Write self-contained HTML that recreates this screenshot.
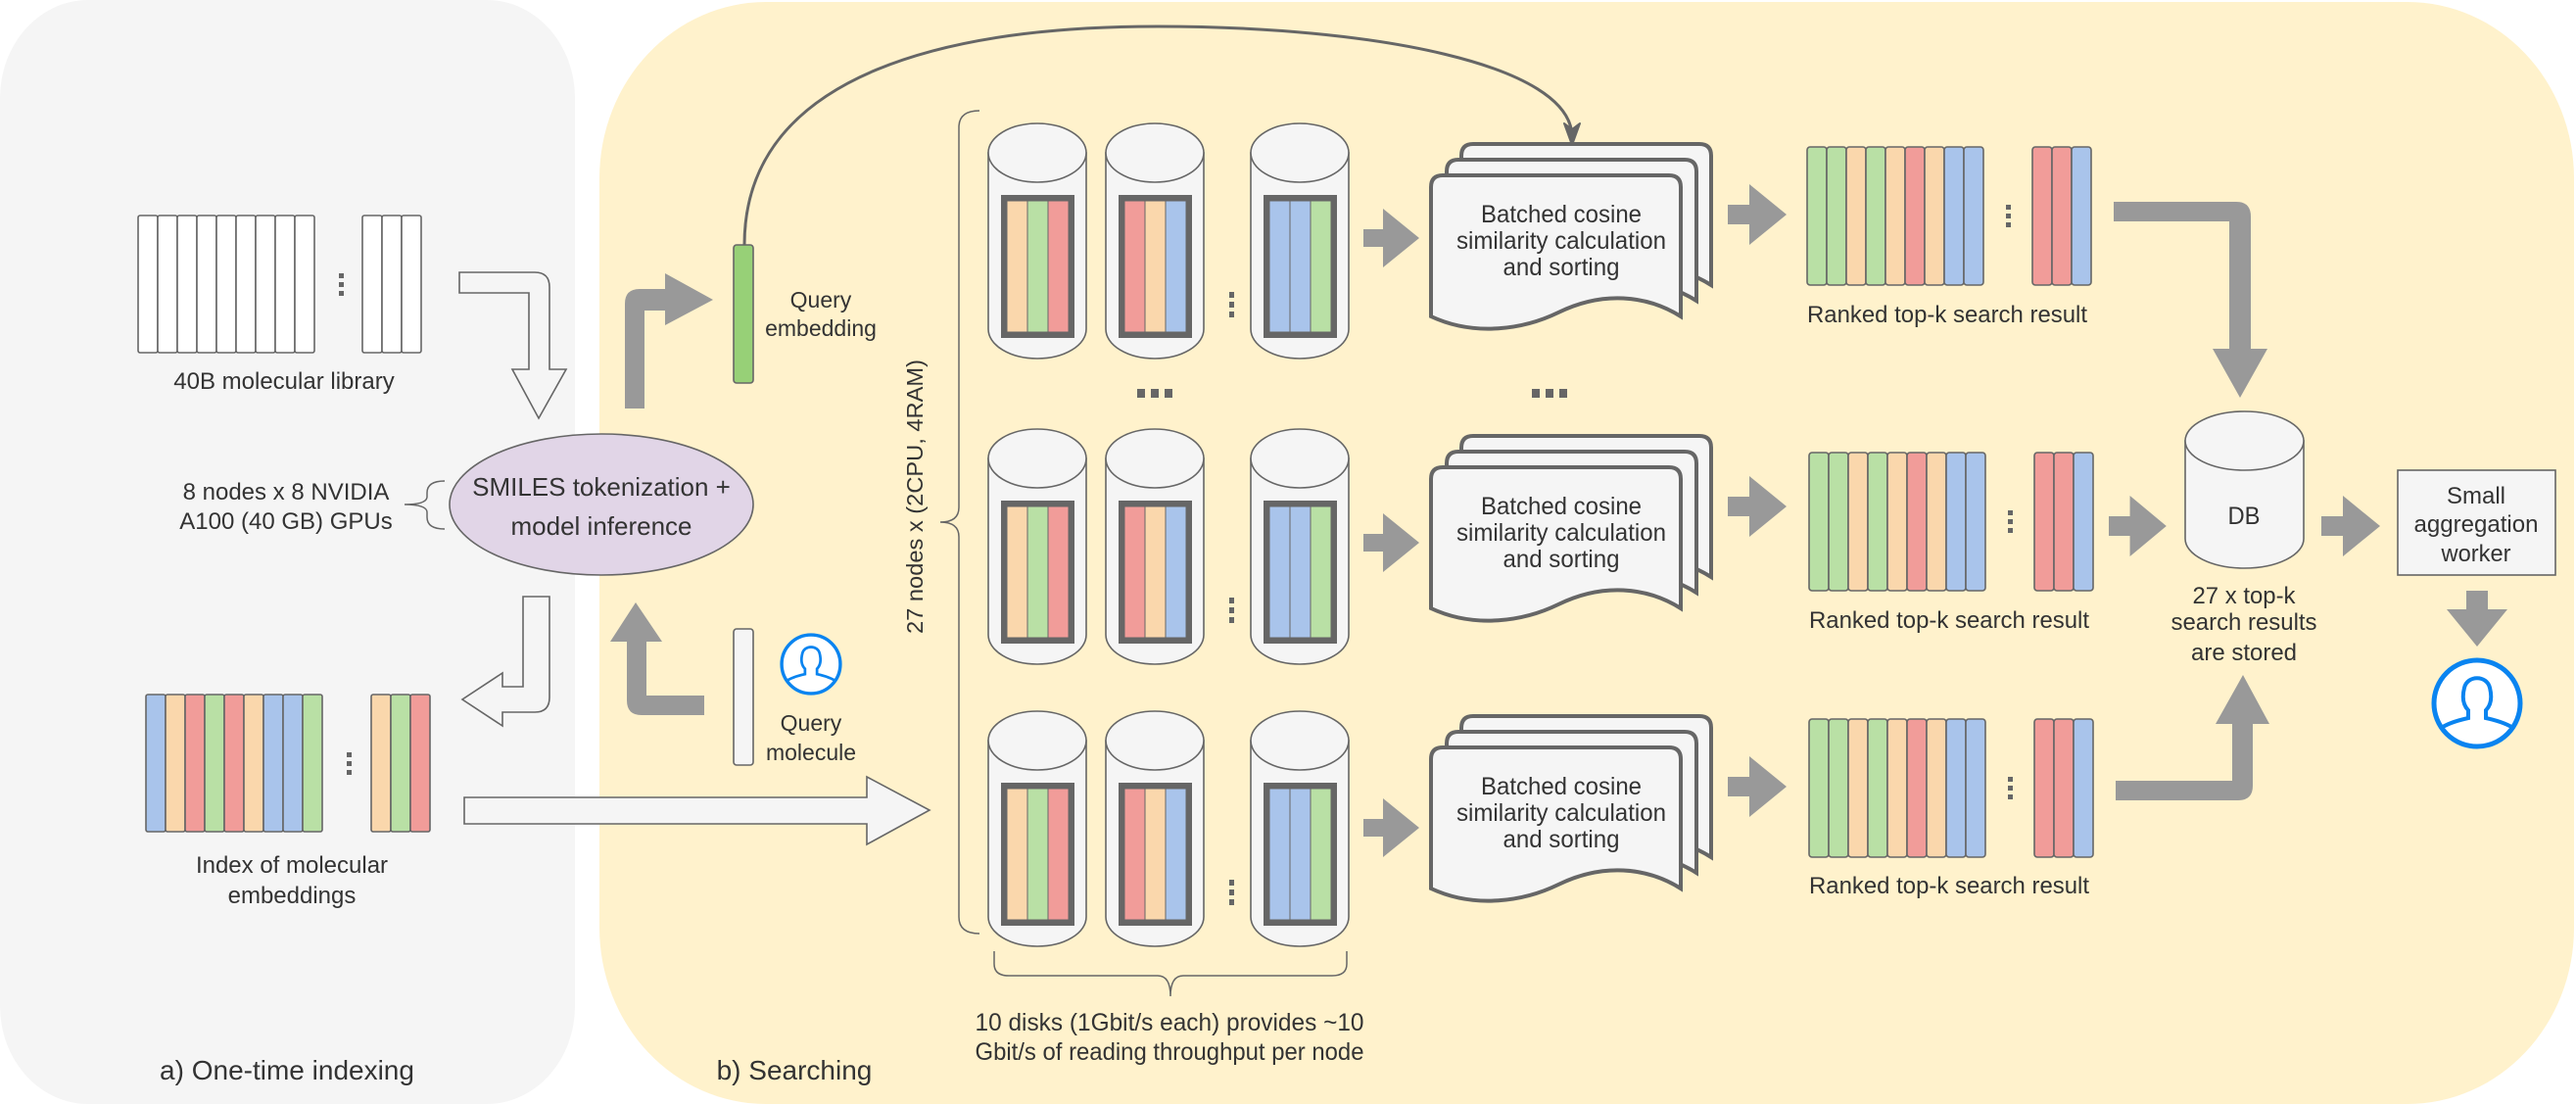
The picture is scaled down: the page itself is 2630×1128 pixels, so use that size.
<!DOCTYPE html>
<html><head><meta charset="utf-8"><style>
html,body{margin:0;padding:0;background:#fff;}
svg{display:block;}
text{font-family:"Liberation Sans",Arial,sans-serif;fill:#333;}
</style></head><body>
<svg width="2630" height="1128" viewBox="0 0 2630 1128" xmlns="http://www.w3.org/2000/svg">
<defs>
  <g id="cyl">
    <path d="M0,30 V210 A50,30 0 0 0 100,210 V30 Z" fill="#f5f5f5" stroke="#666" stroke-width="1.6"/>
    <ellipse cx="50" cy="30" rx="50" ry="30" fill="#f5f5f5" stroke="#666" stroke-width="1.6"/>
  </g>
  <g id="cylrow">
    <use href="#cyl" x="0"/>
    <use href="#cyl" x="120"/>
    <use href="#cyl" x="268"/>
    <g stroke="#666" stroke-width="1">
      <rect x="19" y="79" width="21" height="134" fill="#fad7ac"/>
      <rect x="40" y="79" width="21" height="134" fill="#b9e0a5"/>
      <rect x="61" y="79" width="21" height="134" fill="#f19c99"/>
      <rect x="139" y="79" width="21" height="134" fill="#f19c99"/>
      <rect x="160" y="79" width="21" height="134" fill="#fad7ac"/>
      <rect x="181" y="79" width="21" height="134" fill="#a9c4eb"/>
      <rect x="287" y="79" width="21" height="134" fill="#a9c4eb"/>
      <rect x="308" y="79" width="21" height="134" fill="#a9c4eb"/>
      <rect x="329" y="79" width="21" height="134" fill="#b9e0a5"/>
    </g>
    <g fill="none" stroke="#666" stroke-width="6">
      <rect x="16" y="76" width="69" height="140"/>
      <rect x="136" y="76" width="69" height="140"/>
      <rect x="284" y="76" width="69" height="140"/>
    </g>
    <g fill="#666">
      <rect x="246" y="172" width="5" height="6"/>
      <rect x="246" y="182" width="5" height="6"/>
      <rect x="246" y="192" width="5" height="6"/>
    </g>
  </g>
  <path id="docshape" d="M0,12 Q0,0 12,0 H243 Q255,0 255,12 V144 C220,122 175,118 130,140 C95,157 45,165 0,144 Z" fill="#f5f5f5" stroke="#666" stroke-width="4"/>
  <g id="doc">
    <use href="#docshape" x="31" y="0"/>
    <use href="#docshape" x="16" y="16"/>
    <use href="#docshape" x="0" y="32"/>
    <text x="133" y="80" font-size="25" text-anchor="middle" textLength="164" lengthAdjust="spacingAndGlyphs">Batched cosine</text>
    <text x="133" y="107" font-size="25" text-anchor="middle" textLength="214" lengthAdjust="spacingAndGlyphs">similarity calculation</text>
    <text x="133" y="134" font-size="25" text-anchor="middle" textLength="119" lengthAdjust="spacingAndGlyphs">and sorting</text>
  </g>
  <g id="ranked" stroke="#666" stroke-width="1.6">
    <rect x="0" y="0" width="20" height="141" rx="3" fill="#b9e0a5"/>
    <rect x="20" y="0" width="20" height="141" rx="3" fill="#b9e0a5"/>
    <rect x="40" y="0" width="20" height="141" rx="3" fill="#fad7ac"/>
    <rect x="60" y="0" width="20" height="141" rx="3" fill="#b9e0a5"/>
    <rect x="80" y="0" width="20" height="141" rx="3" fill="#fad7ac"/>
    <rect x="100" y="0" width="20" height="141" rx="3" fill="#f19c99"/>
    <rect x="120" y="0" width="20" height="141" rx="3" fill="#fad7ac"/>
    <rect x="140" y="0" width="20" height="141" rx="3" fill="#a9c4eb"/>
    <rect x="160" y="0" width="20" height="141" rx="3" fill="#a9c4eb"/>
    <rect x="230" y="0" width="20" height="141" rx="3" fill="#f19c99"/>
    <rect x="250" y="0" width="20" height="141" rx="3" fill="#f19c99"/>
    <rect x="270" y="0" width="20" height="141" rx="3" fill="#a9c4eb"/>
    <g fill="#666" stroke="none">
      <rect x="203" y="59" width="5" height="5"/>
      <rect x="203" y="68" width="5" height="5"/>
      <rect x="203" y="77" width="5" height="5"/>
    </g>
  </g>
  <path id="arrA" d="M0,-9 H20 V-30 L57,0 L20,30 V9 H0 Z" fill="#999"/>
  <path id="arrB" d="M0,-10 H22 V-31 L60,0 L22,31 V10 H0 Z" fill="#999"/>
  <g id="user">
    <circle cx="0" cy="0" r="44" fill="#fff" stroke="#0a84f0" stroke-width="5"/>
    <path d="M-38,26 C-30,20 -18,17 -9,15 L-9,7 C-15,1 -15,-8 -13,-16 C-10,-29 10,-29 13,-16 C15,-8 15,1 9,7 L9,15 C18,17 30,20 38,26" fill="none" stroke="#0a84f0" stroke-width="4"/>
  </g>
</defs>

<rect x="0" y="0" width="587" height="1127" rx="90" ry="100" fill="#f5f5f5"/>
<rect x="612" y="2" width="2016" height="1125" rx="170" ry="180" fill="#fff2cc"/>

<g stroke="#666" stroke-width="1.6" fill="#fff">
  <rect x="141" y="220" width="20" height="140" rx="2"/>
  <rect x="161" y="220" width="20" height="140" rx="2"/>
  <rect x="181" y="220" width="20" height="140" rx="2"/>
  <rect x="201" y="220" width="20" height="140" rx="2"/>
  <rect x="221" y="220" width="20" height="140" rx="2"/>
  <rect x="241" y="220" width="20" height="140" rx="2"/>
  <rect x="261" y="220" width="20" height="140" rx="2"/>
  <rect x="281" y="220" width="20" height="140" rx="2"/>
  <rect x="301" y="220" width="20" height="140" rx="2"/>
  <rect x="370" y="220" width="20" height="140" rx="2"/>
  <rect x="390" y="220" width="20" height="140" rx="2"/>
  <rect x="410" y="220" width="20" height="140" rx="2"/>
</g>
<g fill="#666"><rect x="346" y="279" width="5" height="5"/><rect x="346" y="288" width="5" height="5"/><rect x="346" y="297" width="5" height="5"/></g>
<text x="290" y="397" font-size="24" text-anchor="middle">40B molecular library</text>

<g fill="#f5f5f5" stroke="#666" stroke-width="1.6">
  <path d="M469,278 H546 Q561,278 561,293 V377 H578 L550,427 L523,377 H540 V299 H469 Z"/>
  <path d="M534,609 H561 V712 Q561,727 546,727 H513 V741 L472,714 L513,687 V701 H534 Z"/>
  <path d="M474,814 H885 V793 L949,827 L885,862 V841 H474 Z"/>
</g>

<ellipse cx="614" cy="515" rx="155" ry="72" fill="#e1d5e7" stroke="#666" stroke-width="1.6"/>
<text x="614" y="506" font-size="26" text-anchor="middle">SMILES tokenization +</text>
<text x="614" y="546" font-size="26" text-anchor="middle">model inference</text>
<text x="292" y="510" font-size="24" text-anchor="middle">8 nodes x 8 NVIDIA</text>
<text x="292" y="540" font-size="24" text-anchor="middle">A100 (40 GB) GPUs</text>
<path d="M454,491 Q436,491 436,503 V507 Q436,515 413,515 Q436,515 436,523 V528 Q436,540 454,540" fill="none" stroke="#666" stroke-width="1.5"/>

<g stroke="#666" stroke-width="1.6">
  <rect x="149" y="709" width="20" height="140" rx="2" fill="#a9c4eb"/>
  <rect x="169" y="709" width="20" height="140" rx="2" fill="#fad7ac"/>
  <rect x="189" y="709" width="20" height="140" rx="2" fill="#f19c99"/>
  <rect x="209" y="709" width="20" height="140" rx="2" fill="#b9e0a5"/>
  <rect x="229" y="709" width="20" height="140" rx="2" fill="#f19c99"/>
  <rect x="249" y="709" width="20" height="140" rx="2" fill="#fad7ac"/>
  <rect x="269" y="709" width="20" height="140" rx="2" fill="#a9c4eb"/>
  <rect x="289" y="709" width="20" height="140" rx="2" fill="#a9c4eb"/>
  <rect x="309" y="709" width="20" height="140" rx="2" fill="#b9e0a5"/>
  <rect x="379" y="709" width="20" height="140" rx="2" fill="#fad7ac"/>
  <rect x="399" y="709" width="20" height="140" rx="2" fill="#b9e0a5"/>
  <rect x="419" y="709" width="20" height="140" rx="2" fill="#f19c99"/>
</g>
<g fill="#666"><rect x="354" y="768" width="5" height="5"/><rect x="354" y="777" width="5" height="5"/><rect x="354" y="786" width="5" height="5"/></g>
<text x="298" y="891" font-size="24" text-anchor="middle">Index of molecular</text>
<text x="298" y="922" font-size="24" text-anchor="middle">embeddings</text>

<text x="293" y="1102" font-size="28" text-anchor="middle">a) One-time indexing</text>
<text x="811" y="1102" font-size="28" text-anchor="middle">b) Searching</text>

<path d="M638,417 V310 Q638,295 653,295 H679 V279 L728,306 L679,332 V317 H658 V417 Z" fill="#999"/>
<path d="M640,655 H623 L649,615 L676,655 H660 V710 H719 V730 H655 Q640,730 640,715 Z" fill="#999"/>

<path d="M760,250 C760,70 980,27 1182,27 C1400,27 1605,65 1605,140" fill="none" stroke="#666" stroke-width="3"/>
<path d="M1605,148 L1597,126 L1605,132 L1613,126 Z" fill="#666" stroke="#666" stroke-width="2" stroke-linejoin="round"/>
<rect x="749" y="250" width="20" height="141" rx="3" fill="#97d077" stroke="#666" stroke-width="1.6"/>
<text x="838" y="314" font-size="23" text-anchor="middle">Query</text>
<text x="838" y="343" font-size="23" text-anchor="middle">embedding</text>

<rect x="749" y="642" width="20" height="139" rx="3" fill="#f5f5f5" stroke="#666" stroke-width="1.6"/>
<use href="#user" transform="translate(828,678) scale(0.68)"/>
<text x="828" y="746" font-size="23" text-anchor="middle">Query</text>
<text x="828" y="776" font-size="23" text-anchor="middle">molecule</text>

<text transform="translate(942,507) rotate(-90)" font-size="23" text-anchor="middle" textLength="280" lengthAdjust="spacingAndGlyphs">27 nodes x (2CPU, 4RAM)</text>
<path d="M1000,113 Q979,113 979,130 V518 Q979,533 960,533 Q979,533 979,548 V936 Q979,953 1000,953" fill="none" stroke="#666" stroke-width="1.5"/>

<use href="#cylrow" transform="translate(1009,126)"/>
<use href="#cylrow" transform="translate(1009,438)"/>
<use href="#cylrow" transform="translate(1009,726)"/>
<g fill="#666">
  <rect x="1161" y="397" width="8" height="9"/><rect x="1175" y="397" width="8" height="9"/><rect x="1189" y="397" width="8" height="9"/>
  <rect x="1564" y="397" width="8" height="9"/><rect x="1578" y="397" width="8" height="9"/><rect x="1592" y="397" width="8" height="9"/>
</g>
<path d="M1015,971 V984 Q1015,996 1030,996 H1182 Q1195,996 1195,1017 Q1195,996 1208,996 H1360 Q1375,996 1375,984 V971" fill="none" stroke="#666" stroke-width="1.5"/>
<text x="1194" y="1052" font-size="25" text-anchor="middle" textLength="397" lengthAdjust="spacingAndGlyphs">10 disks (1Gbit/s each) provides ~10</text>
<text x="1194" y="1082" font-size="25" text-anchor="middle" textLength="397" lengthAdjust="spacingAndGlyphs">Gbit/s of reading throughput per node</text>

<use href="#arrA" transform="translate(1392,243)"/>
<use href="#arrA" transform="translate(1392,554)"/>
<use href="#arrA" transform="translate(1392,845)"/>

<use href="#doc" transform="translate(1461,147)"/>
<use href="#doc" transform="translate(1461,445)"/>
<use href="#doc" transform="translate(1461,731)"/>

<use href="#arrB" transform="translate(1764,219)"/>
<use href="#arrB" transform="translate(1764,517)"/>
<use href="#arrB" transform="translate(1764,803)"/>

<use href="#ranked" transform="translate(1845,150)"/>
<use href="#ranked" transform="translate(1847,462)"/>
<use href="#ranked" transform="translate(1847,734)"/>
<text x="1988" y="329" font-size="24" text-anchor="middle" textLength="286" lengthAdjust="spacingAndGlyphs">Ranked top-k search result</text>
<text x="1990" y="641" font-size="24" text-anchor="middle" textLength="286" lengthAdjust="spacingAndGlyphs">Ranked top-k search result</text>
<text x="1990" y="912" font-size="24" text-anchor="middle" textLength="286" lengthAdjust="spacingAndGlyphs">Ranked top-k search result</text>

<path d="M2158,206 H2283 Q2298,206 2298,221 V356 H2315 L2287,406 L2259,356 H2276 V226 H2158 Z" fill="#999"/>
<path d="M2160,797 H2279 V739 H2262 L2290,689 L2317,739 H2300 V802 Q2300,817 2285,817 H2160 Z" fill="#999"/>
<use href="#arrB" transform="translate(2153,537) scale(0.98,1)"/>
<use href="#arrB" transform="translate(2370,537)"/>
<path d="M2518,603 H2540 V622 H2560 L2529,660 L2498,622 H2518 Z" fill="#999"/>

<path d="M2231,450 V550 A60.5,30 0 0 0 2352,550 V450 Z" fill="#f5f5f5" stroke="#666" stroke-width="1.6"/>
<ellipse cx="2291.5" cy="450" rx="60.5" ry="30" fill="#f5f5f5" stroke="#666" stroke-width="1.6"/>
<text x="2291" y="535" font-size="25" text-anchor="middle" textLength="33" lengthAdjust="spacingAndGlyphs">DB</text>
<text x="2291" y="616" font-size="24" text-anchor="middle" textLength="105" lengthAdjust="spacingAndGlyphs">27 x top-k</text>
<text x="2291" y="643" font-size="24" text-anchor="middle" textLength="149" lengthAdjust="spacingAndGlyphs">search results</text>
<text x="2291" y="674" font-size="24" text-anchor="middle" textLength="108" lengthAdjust="spacingAndGlyphs">are stored</text>

<rect x="2448" y="480" width="161" height="107" fill="#f5f5f5" stroke="#666" stroke-width="1.6"/>
<text x="2528" y="514" font-size="24" text-anchor="middle" textLength="60" lengthAdjust="spacingAndGlyphs">Small</text>
<text x="2528" y="543" font-size="24" text-anchor="middle" textLength="127" lengthAdjust="spacingAndGlyphs">aggregation</text>
<text x="2528" y="573" font-size="24" text-anchor="middle" textLength="71" lengthAdjust="spacingAndGlyphs">worker</text>

<use href="#user" transform="translate(2529,718)"/>
</svg>
</body></html>
